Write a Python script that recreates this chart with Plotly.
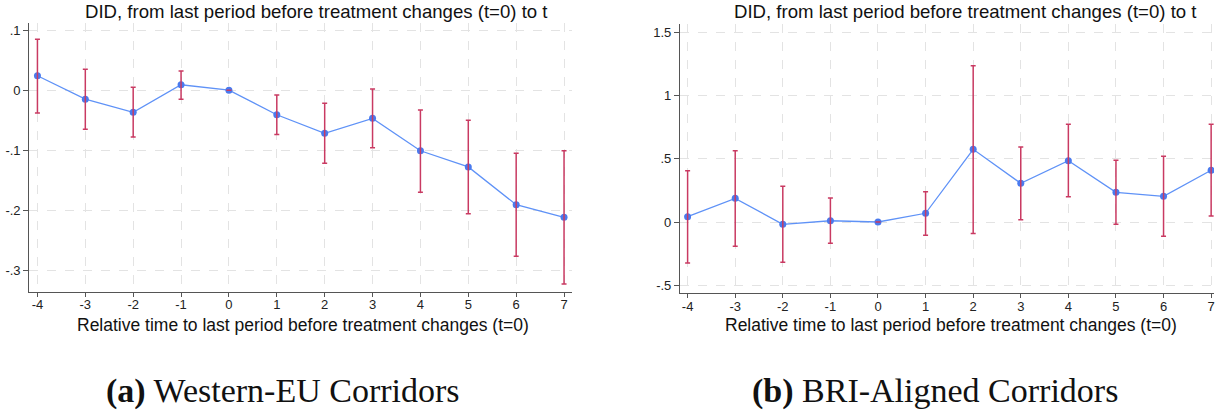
import plotly.graph_objects as go

# ---------------- data ----------------
rel_time = [-4, -3, -2, -1, 0, 1, 2, 3, 4, 5, 6, 7]

# (a) Western-EU Corridors
est_a = [0.024, -0.015, -0.037, 0.009, 0.0, -0.041, -0.072, -0.047, -0.101, -0.128, -0.191, -0.212]
hi_a = [0.085, 0.035, 0.005, 0.032, 0.0, -0.008, -0.022, 0.002, -0.033, -0.050, -0.105, -0.101]
lo_a = [-0.038, -0.065, -0.078, -0.015, 0.0, -0.074, -0.122, -0.096, -0.170, -0.206, -0.277, -0.323]

# (b) BRI-Aligned Corridors
est_b = [0.042, 0.187, -0.018, 0.010, 0.0, 0.069, 0.575, 0.306, 0.485, 0.235, 0.203, 0.409]
hi_b = [0.406, 0.564, 0.282, 0.190, 0.0, 0.240, 1.237, 0.593, 0.773, 0.488, 0.520, 0.773]
lo_b = [-0.324, -0.192, -0.319, -0.169, 0.0, -0.105, -0.090, 0.018, 0.200, -0.018, -0.113, 0.047]

x_ticks = [-4, -3, -2, -1, 0, 1, 2, 3, 4, 5, 6, 7]
y_ticks_a = [-0.3, -0.2, -0.1, 0.0, 0.1]
y_labels_a = ["-.3", "-.2", "-.1", "0", ".1"]
y_ticks_b = [-0.5, 0.0, 0.5, 1.0, 1.5]
y_labels_b = ["-.5", "0", ".5", "1", "1.5"]

panel_title = "DID, from last period before treatment changes (t=0) to t"
x_title = "Relative time to last period before treatment changes (t=0)"
caption_a = "<b>(a)</b> Western-EU Corridors"
caption_b = "<b>(b)</b> BRI-Aligned Corridors"

# ---------------- style ----------------
W, H = 1221, 413
LINE_C = "#5F92F7"
MARK_C = "#4A7AEE"
ERR_C = "#C93A62"
GRID_C = "#E3E3E3"
AXIS_C = "#555555"
SANS = "Liberation Sans, Arial, sans-serif"
SERIF = "Liberation Serif, Times New Roman, serif"

fig = go.Figure()


def add_panel(est, lo, hi, xa, ya):
    fig.add_trace(go.Scatter(
        x=rel_time, y=est, mode="lines+markers", xaxis=xa, yaxis=ya,
        line=dict(color=LINE_C, width=1.3),
        marker=dict(color=MARK_C, size=7),
        showlegend=False, hoverinfo="skip"))
    fig.add_trace(go.Scatter(
        x=rel_time, y=est, mode="markers", xaxis=xa, yaxis=ya,
        marker=dict(size=0.1, color="rgba(0,0,0,0)"),
        error_y=dict(type="data", symmetric=False,
                     array=[h - e for h, e in zip(hi, est)],
                     arrayminus=[e - l for e, l in zip(est, lo)],
                     color=ERR_C, thickness=1.5, width=2.5),
        showlegend=False, hoverinfo="skip"))


add_panel(est_a, lo_a, hi_a, "x", "y")
add_panel(est_b, lo_b, hi_b, "x2", "y2")

xa_dom = [29.3 / W, 571.7 / W]
xb_dom = [680 / W, 1214 / W]
ya_dom = [1 - 291.7 / H, 1 - 23 / H]
yb_dom = [1 - 293.3 / H, 1 - 24.3 / H]

common_x = dict(
    tickmode="array", tickvals=x_ticks, ticktext=[str(v) for v in x_ticks],
    showgrid=True, gridcolor=GRID_C, griddash="dash", gridwidth=1,
    showline=True, linecolor=AXIS_C, linewidth=1.2,
    ticks="outside", ticklen=4, tickcolor=AXIS_C, tickwidth=1,
    ticklabelstandoff=-3,
    tickfont=dict(family=SANS, size=13, color="#222"),
    zeroline=False, fixedrange=True)
common_y = dict(
    showgrid=True, gridcolor=GRID_C, griddash="dash", gridwidth=1,
    showline=True, linecolor=AXIS_C, linewidth=1.2,
    ticks="outside", ticklen=5, tickcolor=AXIS_C, tickwidth=1,
    tickfont=dict(family=SANS, size=13, color="#222"),
    zeroline=False, fixedrange=True)

fig.update_layout(
    width=W, height=H,
    margin=dict(l=0, r=0, t=0, b=0),
    paper_bgcolor="white", plot_bgcolor="white",
    xaxis=dict(domain=xa_dom, range=[-4.17, 7.16], anchor="y", **common_x),
    yaxis=dict(domain=ya_dom, range=[-0.336, 0.112], anchor="x",
               tickmode="array", tickvals=y_ticks_a, ticktext=y_labels_a, **common_y),
    xaxis2=dict(domain=xb_dom, range=[-4.16, 7.06], anchor="y2", **common_x),
    yaxis2=dict(domain=yb_dom, range=[-0.564, 1.564], anchor="x2",
                tickmode="array", tickvals=y_ticks_b, ticktext=y_labels_b, **common_y),
)

ann = []
for tx, xx in [(82.7, 75), (731.7, 723.3)]:
    ann.append(dict(text=panel_title, x=tx / W, y=1 - 11 / H, xref="paper", yref="paper",
                    showarrow=False, xanchor="left", yanchor="middle",
                    font=dict(family=SANS, size=18.6, color="#111")))
    ann.append(dict(text=x_title, x=xx / W, y=1 - 325 / H, xref="paper", yref="paper",
                    showarrow=False, xanchor="left", yanchor="middle",
                    font=dict(family=SANS, size=17.5, color="#111")))
ann.append(dict(text=caption_a, x=104 / W, y=1 - 391 / H, xref="paper", yref="paper",
                showarrow=False, xanchor="left", yanchor="middle",
                font=dict(family=SERIF, size=34, color="#111")))
ann.append(dict(text=caption_b, x=750 / W, y=1 - 391 / H, xref="paper", yref="paper",
                showarrow=False, xanchor="left", yanchor="middle",
                font=dict(family=SERIF, size=34, color="#111")))
fig.update_layout(annotations=ann)

fig.write_html("out.html", config={"displayModeBar": False},
               post_script="document.body.style.margin='0';document.body.style.overflow='hidden';")
